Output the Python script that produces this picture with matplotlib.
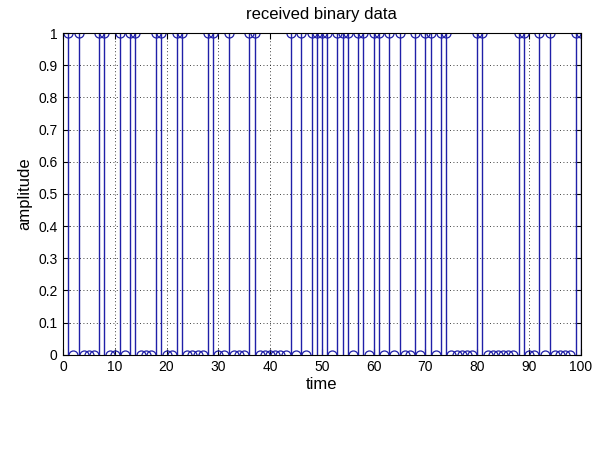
import matplotlib
matplotlib.use("Agg")
import matplotlib.pyplot as plt
import numpy as np

# received bits, sample index 1..100 (positions of the ones)
n_samples = 100
ones_at = [1, 3, 7, 8, 11, 13, 14, 18, 19, 22, 23, 28, 29, 32, 36, 37,
           44, 46, 48, 49, 50, 51, 53, 54, 55, 57, 58, 60, 61, 63, 65,
           68, 70, 71, 73, 74, 80, 81, 88, 89, 92, 94, 99, 100]

t = np.arange(1, n_samples + 1)
bits = np.zeros(n_samples)
bits[np.array(ones_at) - 1] = 1

x_ticks = list(range(0, 101, 10))
y_ticks = [round(v * 0.1, 1) for v in range(11)]
y_labels = ["0"] + [f"{v:g}" for v in y_ticks[1:-1]] + ["1"]

plt.rcParams["font.family"] = ["Liberation Sans", "DejaVu Sans"]

fig = plt.figure(figsize=(6.0, 4.59), dpi=100)
ax = fig.add_axes([0.105, 0.227, 0.863, 0.701])

col = "#2020a8"
markers, stems, base = ax.stem(t, bits, basefmt=" ")
plt.setp(stems, color=col, linewidth=1.0)
plt.setp(markers, marker="o", markersize=6.5, markerfacecolor="none",
         markeredgecolor=col, markeredgewidth=0.9)

ax.set_xlim(0, 100)
ax.set_ylim(0, 1)
ax.set_xticks(x_ticks)
ax.set_yticks(y_ticks)
ax.set_yticklabels(y_labels)
ax.grid(True, linestyle=(0, (1, 3)), color="black", linewidth=0.6)
ax.tick_params(direction="in", top=True, right=True, labelsize=10, length=4, pad=4)
for sp in ax.spines.values():
    sp.set_linewidth(0.8)

ax.set_title("received binary data", fontsize=12, pad=10)
ax.set_xlabel("time", fontsize=12, labelpad=2)
ax.set_ylabel("amplitude", fontsize=12, labelpad=4)

fig.savefig("out.png", dpi=100)
plt.close(fig)
